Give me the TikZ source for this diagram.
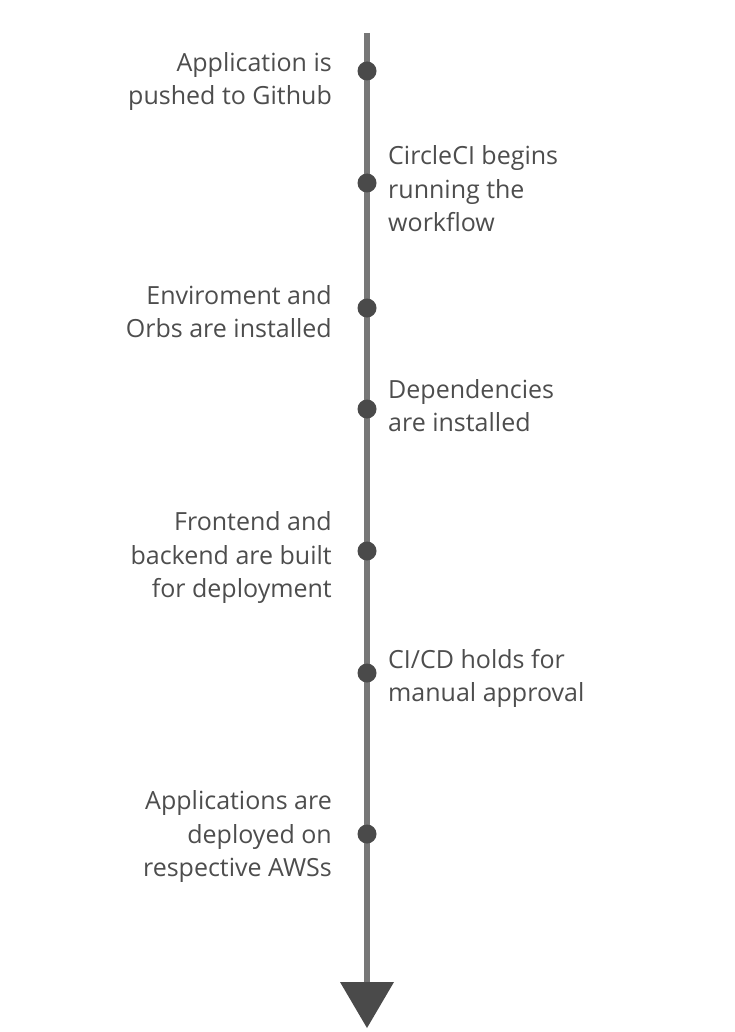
\documentclass[tikz,border=0pt]{standalone}
\usepackage{fontspec}
\setmainfont{Open Sans}
\definecolor{txtgray}{HTML}{4D4D4D}
\definecolor{linegray}{HTML}{777777}
\definecolor{dotgray}{HTML}{4A4A4A}
\begin{document}
\begin{tikzpicture}[x=1pt,y=-1pt,
  lbl/.style={text=txtgray, font=\fontsize{25}{33.5}\selectfont, inner sep=0pt},
  lefttxt/.style={lbl, anchor=east, align=right},
  righttxt/.style={lbl, anchor=west, align=left},
  stepdot/.style={circle, fill=dotgray, minimum size=19pt, inner sep=0pt},
  axis/.style={draw=linegray, line width=5.5pt}]
\useasboundingbox (0,0) rectangle (735,1032);
\coordinate (top) at (367,33);
\coordinate (bot) at (367,985);
\coordinate (tl) at (340,982);
\coordinate (tr) at (394,982);
\coordinate (tb) at (367,1028);
\draw[axis] (top) -- (bot);
\fill[dotgray] (tl) -- (tr) -- (tb) -- cycle;
\node[stepdot] (d1) at (367,71) {};
\node[stepdot] (d2) at (367,183) {};
\node[stepdot] (d3) at (367,308) {};
\node[stepdot] (d4) at (367,409) {};
\node[stepdot] (d5) at (367,551) {};
\node[stepdot] (d6) at (367,673) {};
\node[stepdot] (d7) at (367,834) {};
\node[lefttxt] (t1) at (332,81.5) {Application is\\pushed to Github};
\node[righttxt] (t2) at (388,189) {CircleCI begins\\running the\\workflow};
\node[lefttxt] (t3) at (332,311.5) {Enviroment and\\Orbs are installed};
\node[righttxt] (t4) at (388,405.5) {Dependencies\\are installed};
\node[lefttxt] (t5) at (332,557.5) {Frontend and\\backend are built\\for deployment};
\node[righttxt] (t6) at (388,678.5) {CI/CD holds for\\manual approval};
\node[lefttxt] (t7) at (332,836.5) {Applications are\\deployed on\\respective AWSs};
\end{tikzpicture}
\end{document}
